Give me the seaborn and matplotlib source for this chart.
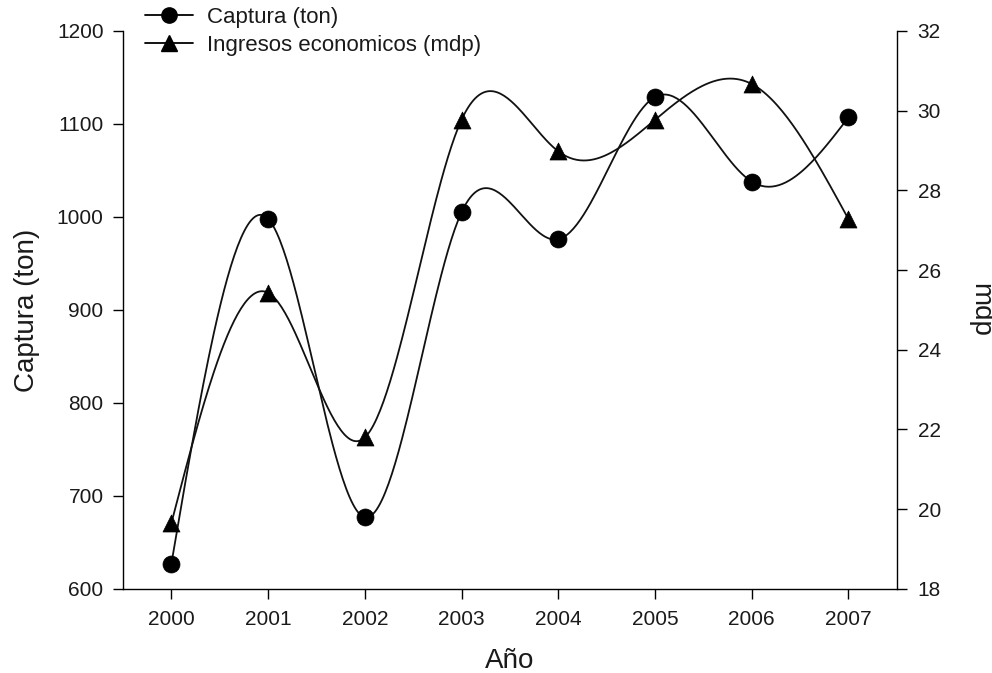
import numpy as np
import pandas as pd
import matplotlib
matplotlib.use("Agg")
import matplotlib.pyplot as plt
import seaborn as sns
from matplotlib.lines import Line2D

years = [2000, 2001, 2002, 2003, 2004, 2005, 2006, 2007]
captura = [627, 998, 677, 1005, 976, 1129, 1038, 1107]
ingresos = [19.65, 25.43, 21.8, 29.77, 28.98, 29.77, 30.67, 27.28]


def natural_spline(x, y, n=400):
    x = np.asarray(x, float)
    y = np.asarray(y, float)
    m = len(x)
    h = np.diff(x)
    A = np.zeros((m, m))
    b = np.zeros(m)
    A[0, 0] = 1
    A[-1, -1] = 1
    for i in range(1, m - 1):
        A[i, i - 1] = h[i - 1]
        A[i, i] = 2 * (h[i - 1] + h[i])
        A[i, i + 1] = h[i]
        b[i] = 6 * ((y[i + 1] - y[i]) / h[i] - (y[i] - y[i - 1]) / h[i - 1])
    M = np.linalg.solve(A, b)
    xs = np.linspace(x[0], x[-1], n)
    idx = np.clip(np.searchsorted(x, xs) - 1, 0, m - 2)
    x0, x1 = x[idx], x[idx + 1]
    hh = x1 - x0
    t0 = x1 - xs
    t1 = xs - x0
    ys = (M[idx] * t0 ** 3 / (6 * hh) + M[idx + 1] * t1 ** 3 / (6 * hh)
          + (y[idx] / hh - M[idx] * hh / 6) * t0
          + (y[idx + 1] / hh - M[idx + 1] * hh / 6) * t1)
    return xs, ys


sns.set_style("ticks")
plt.rcParams['font.family'] = ['Liberation Sans', 'DejaVu Sans']

fig = plt.figure(figsize=(9.92, 6.73), dpi=100)
ax = fig.add_axes([0.124, 0.125, 0.780, 0.829])
ax2 = ax.twinx()

df = pd.DataFrame({"year": years, "captura": captura, "ingresos": ingresos})
xs1, ys1 = natural_spline(years, captura)
xs2, ys2 = natural_spline(years, ingresos)

sns.lineplot(x=xs1, y=ys1, ax=ax, color="#111111", lw=1.3, estimator=None, sort=False)
sns.scatterplot(data=df, x="year", y="captura", ax=ax, color="black", marker="o",
                s=150, edgecolor="black", linewidth=0.5, zorder=5)
sns.lineplot(x=xs2, y=ys2, ax=ax2, color="#111111", lw=1.3, estimator=None, sort=False)
sns.scatterplot(data=df, x="year", y="ingresos", ax=ax2, color="black", marker="^",
                s=150, edgecolor="black", linewidth=0.5, zorder=5)

ax.set_xlim(1999.5, 2007.5)
ax.set_ylim(600, 1200)
ax2.set_ylim(18, 32)
ax.set_xticks(years)
ax.set_yticks(np.arange(600, 1201, 100))
ax2.set_yticks(np.arange(18, 33, 2))

for a in (ax, ax2):
    a.spines['top'].set_visible(False)
    a.tick_params(labelsize=15, length=7, width=1, direction='out',
                  colors='black', labelcolor='#1a1a1a')
    for s in a.spines.values():
        s.set_linewidth(1.0)
        s.set_color('black')
ax.tick_params(axis='y', pad=7)
ax.tick_params(axis='x', pad=8)
ax2.tick_params(axis='y', pad=8)
ax.spines['right'].set_visible(False)
ax2.spines['left'].set_visible(False)
ax2.spines['bottom'].set_visible(False)

ax.set_xlabel("Año", fontsize=20, labelpad=14, color='#1a1a1a')
ax.set_ylabel("Captura (ton)", fontsize=20, labelpad=12, color='#1a1a1a')
ax2.set_ylabel("mdp", fontsize=20, labelpad=19, rotation=270, va='bottom', color='#1a1a1a')
ax.grid(False)
ax2.grid(False)

handles = [
    Line2D([], [], color='black', lw=1.3, marker='o', markersize=11),
    Line2D([], [], color='black', lw=1.3, marker='^', markersize=11),
]
fig.legend(handles, ["Captura (ton)", "Ingresos economicos (mdp)"],
           loc='upper left', bbox_to_anchor=(0.137, 1.003), frameon=False,
           fontsize=16, handlelength=2.15, handletextpad=0.63, labelspacing=0.32,
           borderaxespad=0, labelcolor='#1a1a1a')

fig.savefig("out.png", dpi=100)
